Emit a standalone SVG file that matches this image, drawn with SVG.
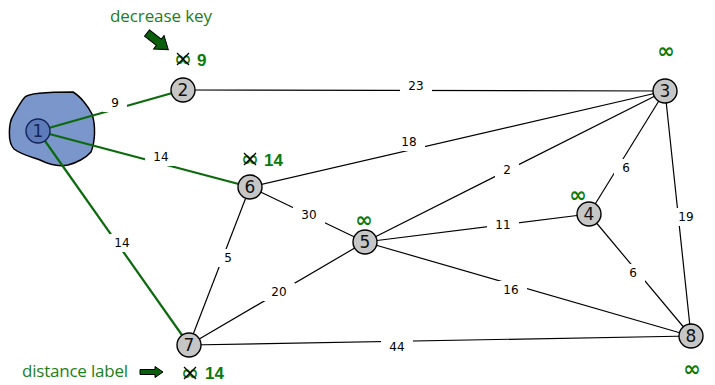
<svg xmlns="http://www.w3.org/2000/svg" width="715" height="385" viewBox="0 0 715 385">
<style>
.e{stroke:#000;stroke-width:1.2;fill:none}
.g{stroke:#0b6a0b;stroke-width:2.2;fill:none}
.gap{fill:#fff}
.lbl{font-family:"DejaVu Sans",sans-serif;font-size:12px;fill:#000;text-anchor:middle}
.node circle{fill:#c6c6c6;stroke:#000;stroke-width:1.4}
.node text{font-family:"DejaVu Sans",sans-serif;font-size:17px;fill:#111;text-anchor:middle}
.inf{font-family:"DejaVu Sans",sans-serif;font-size:21px;font-weight:bold;fill:#0a7a0a;text-anchor:middle}
.num{font-family:"Liberation Sans",sans-serif;font-size:17px;font-weight:bold;fill:#0a7a0a}
.ann{font-family:"Open Sans",sans-serif;font-size:17px;fill:#1a801a}
.x{stroke:#000;stroke-width:1.3}
.arr{fill:#0b5e0b;stroke:#000;stroke-width:1}
</style>
<path id="blob" d="M25,97 C30,92 60,92 73,92 C80,96 88,106 92,114 C96,126 95,142 91,152 C86,158 76,163 68,165 C58,167 48,164 40,160 C32,157 22,155 14,149 C7,142 9,122 13,116 C17,109 21,101 25,97 Z" fill="#7b96ca" stroke="#000" stroke-width="1.5"/>
<g id="connectors">
<line class="g" x1="38" y1="131" x2="183" y2="90"/>
<line class="g" x1="38" y1="131" x2="250" y2="187"/>
<line class="g" x1="38" y1="131" x2="189" y2="345"/>
<line class="e" x1="183" y1="90" x2="665" y2="91"/>
<line class="e" x1="250" y1="187" x2="665" y2="91"/>
<line class="e" x1="365" y1="242" x2="665" y2="91"/>
<line class="e" x1="589" y1="214" x2="665" y2="91"/>
<line class="e" x1="665" y1="91" x2="691" y2="336"/>
<line class="e" x1="250" y1="187" x2="365" y2="242"/>
<line class="e" x1="250" y1="187" x2="189" y2="345"/>
<line class="e" x1="189" y1="345" x2="365" y2="242"/>
<line class="e" x1="365" y1="242" x2="589" y2="214"/>
<line class="e" x1="365" y1="242" x2="691" y2="336"/>
<line class="e" x1="589" y1="214" x2="691" y2="336"/>
<line class="e" x1="189" y1="345" x2="691" y2="336"/>
<g class="gap">
<rect x="103" y="94" width="24" height="18"/>
<rect x="145" y="148" width="32" height="18"/>
<rect x="106" y="234" width="32" height="18"/>
<rect x="400" y="77" width="32" height="18"/>
<rect x="393" y="133" width="32" height="18"/>
<rect x="495" y="161" width="24" height="18"/>
<rect x="614" y="159" width="24" height="18"/>
<rect x="670" y="208" width="32" height="18"/>
<rect x="293" y="206" width="32" height="18"/>
<rect x="487" y="216" width="32" height="18"/>
<rect x="216" y="249" width="24" height="18"/>
<rect x="263" y="283" width="32" height="18"/>
<rect x="495" y="281" width="32" height="18"/>
<rect x="621" y="264" width="24" height="18"/>
<rect x="381" y="338" width="32" height="18"/>
</g>
<g>
<text class="lbl" x="115" y="107">9</text>
<text class="lbl" x="161" y="161">14</text>
<text class="lbl" x="122" y="247">14</text>
<text class="lbl" x="416" y="90">23</text>
<text class="lbl" x="409" y="146">18</text>
<text class="lbl" x="507" y="174">2</text>
<text class="lbl" x="626" y="172">6</text>
<text class="lbl" x="686" y="221">19</text>
<text class="lbl" x="309" y="219">30</text>
<text class="lbl" x="503" y="229">11</text>
<text class="lbl" x="228" y="262">5</text>
<text class="lbl" x="279" y="296">20</text>
<text class="lbl" x="511" y="294">16</text>
<text class="lbl" x="633" y="277">6</text>
<text class="lbl" x="397" y="351">44</text>
</g>
</g>
<g id="n1"><circle cx="38" cy="131" r="12" fill="#5d7bb8" stroke="#14245a" stroke-width="1.4"/><text x="38" y="137" font-family="DejaVu Sans,sans-serif" font-size="17" fill="#14245a" text-anchor="middle">1</text></g>
<g id="n2" class="node"><circle cx="183" cy="90" r="12"/><text x="183" y="96">2</text></g>
<g id="n3" class="node"><circle cx="665" cy="91" r="12"/><text x="665" y="97">3</text></g>
<g id="n4" class="node"><circle cx="589" cy="214" r="12"/><text x="589" y="220">4</text></g>
<g id="n5" class="node"><circle cx="365" cy="242" r="12"/><text x="365" y="248">5</text></g>
<g id="n6" class="node"><circle cx="250" cy="187" r="12"/><text x="250" y="193">6</text></g>
<g id="n7" class="node"><circle cx="189" cy="345" r="12"/><text x="189" y="351">7</text></g>
<g id="n8" class="node"><circle cx="691" cy="336" r="12"/><text x="691" y="342">8</text></g>
<g id="dist">
<text class="inf" x="666" y="58">∞</text>
<text class="inf" x="578" y="202">∞</text>
<text class="inf" x="364" y="227">∞</text>
<text class="inf" x="692" y="376">∞</text>
<text class="inf" x="183" y="66">∞</text><line class="x" x1="177" y1="53" x2="189" y2="65"/><line class="x" x1="189" y1="53" x2="177" y2="65"/>
<text class="num" x="197" y="66">9</text>
<text class="inf" x="250" y="166">∞</text><line class="x" x1="244" y1="153" x2="256" y2="165"/><line class="x" x1="256" y1="153" x2="244" y2="165"/>
<text class="num" x="264" y="166">14</text>
<text class="inf" x="190" y="380">∞</text><line class="x" x1="184" y1="367" x2="196" y2="379"/><line class="x" x1="196" y1="367" x2="184" y2="379"/>
<text class="num" x="205" y="379">14</text>
</g>
<g id="decrease-key">
<text class="ann" x="110" y="22" textLength="102">decrease key</text>
<polygon class="arr" transform="translate(147,33) rotate(38)" points="0,-4 15,-4 15,-8.5 27,0 15,8.5 15,4 0,4"/>
</g>
<g id="distance-label">
<text class="ann" x="22" y="377" textLength="106">distance label</text>
<polygon class="arr" transform="translate(140,372)" points="0,-2.5 15,-2.5 15,-5.5 23,0 15,5.5 15,2.5 0,2.5"/>
</g>
</svg>
